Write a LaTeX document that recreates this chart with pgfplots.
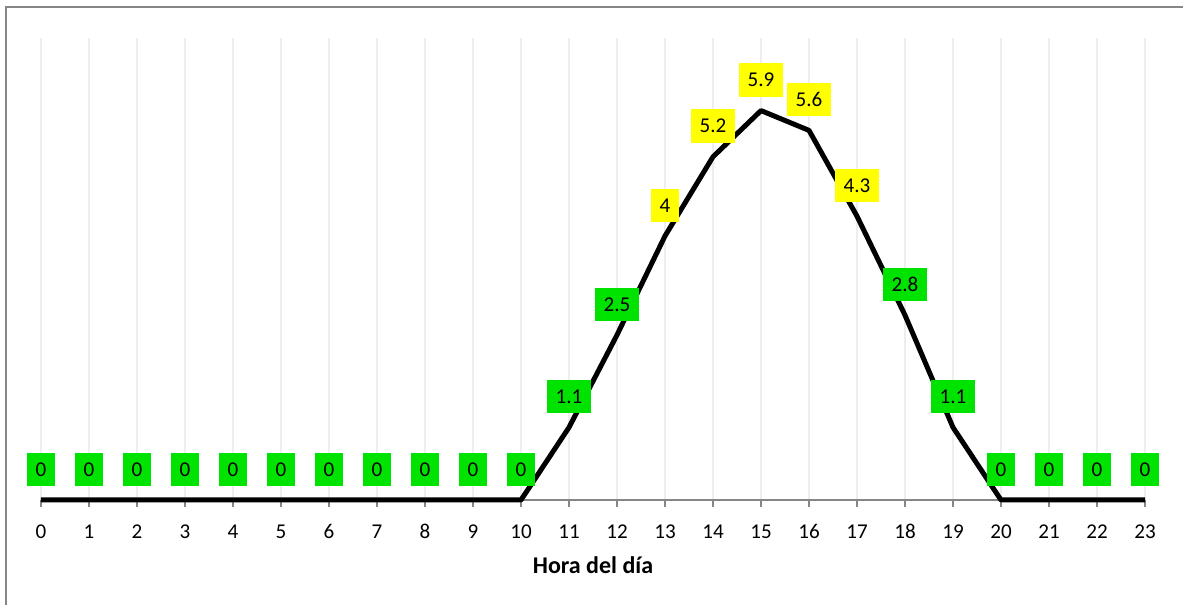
\documentclass[border=0pt]{standalone}
\usepackage{fontspec}
\setmainfont{Carlito}
\usepackage{pgfplots}
\pgfplotsset{compat=1.18}
\definecolor{lblgreen}{RGB}{0,226,0}
\definecolor{lblyellow}{RGB}{255,255,0}
\definecolor{gridc}{RGB}{238,238,238}
\definecolor{axc}{RGB}{134,134,134}
\begin{document}
\begin{tikzpicture}
\begin{axis}[
  at={(0,0)}, anchor=south west,
  scale only axis,
  width=828pt, height=346.5pt,
  xmin=0, xmax=23, ymin=0, ymax=7,
  clip=false,
  axis x line*=bottom,
  axis y line=none,
  x axis line style={draw=axc, line width=1.5pt, -},
  xtick={0,...,23},
  xmajorgrids,
  major grid style={draw=gridc, line width=1.5pt},
  tick style={draw=axc, line width=1.2pt},
  major tick length=5.5pt,
  tick align=outside,
  /pgf/number format/assume math mode=true,
  xticklabel style={font=\fontsize{15.8}{18}\selectfont, anchor=center, yshift=-18pt},
  xlabel={Hora del día},
  xlabel style={font=\fontsize{18}{21}\selectfont\bfseries, at={(axis description cs:0.5,0)}, anchor=center, yshift=-48.75pt},
  every node near coord/.append style={font=\fontsize{15.8}{18}\selectfont, text=black, anchor=center, yshift=23pt, inner xsep=6.6pt, inner ysep=0pt, minimum height=25pt},
]
\addplot[black, line width=3.75pt, line join=round, mark=none] coordinates {
(0,0) (1,0) (2,0) (3,0) (4,0) (5,0) (6,0) (7,0) (8,0) (9,0) (10,0)
(11,1.1) (12,2.5) (13,4) (14,5.2) (15,5.9) (16,5.6) (17,4.3) (18,2.8) (19,1.1)
(20,0) (21,0) (22,0) (23,0)
};
\addplot[draw=none, mark=none, nodes near coords, every node near coord/.append style={fill=lblgreen}] coordinates {
(0,0) (1,0) (2,0) (3,0) (4,0) (5,0) (6,0) (7,0) (8,0) (9,0) (10,0)
(11,1.1) (12,2.5) (18,2.8) (19,1.1)
(20,0) (21,0) (22,0) (23,0)
};
\addplot[draw=none, mark=none, nodes near coords, every node near coord/.append style={fill=lblyellow}] coordinates {
(13,4) (14,5.2) (15,5.9) (16,5.6) (17,4.3)
};
\end{axis}
\pgfresetboundingbox
\path[use as bounding box] (-30.75pt,-78.75pt) rectangle (856.5pt,375pt);
\begin{scope}
\clip (-30.75pt,-78.75pt) rectangle (856.5pt,375pt);
\draw[axc, line width=1.5pt] (-26.25pt,-100pt) rectangle (880pt,369.75pt);
\end{scope}
\end{tikzpicture}
\end{document}
